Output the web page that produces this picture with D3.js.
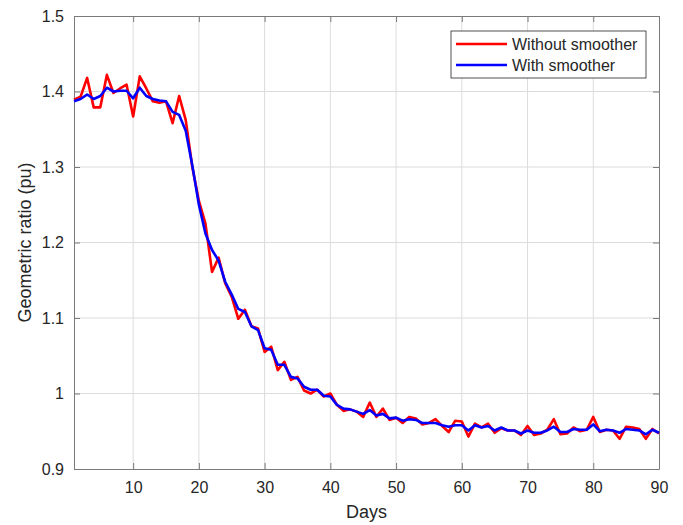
<!DOCTYPE html>
<html>
<head>
<meta charset="utf-8">
<script src="https://cdnjs.cloudflare.com/ajax/libs/d3/7.8.5/d3.min.js"></script>
<style>
  body { margin: 0; background: #fff; }
  text { font-family: "Liberation Sans", Arial, sans-serif; fill: #262626; }
  .grid line { stroke: #dcdcdc; stroke-width: 1; }
  .axis path, .axis line { stroke: #7a7a7a; }
  .axis text { font-size: 16px; fill: #262626; }
</style>
</head>
<body>
<div id="chart"></div>
<script>
// days 1..90
var days = d3.range(1, 91);

var withoutSmoother = [
  1.389, 1.393, 1.418, 1.379, 1.379, 1.422, 1.398, 1.404, 1.409, 1.367,
  1.420, 1.404, 1.387, 1.385, 1.387, 1.358, 1.394, 1.362, 1.300, 1.255,
  1.225, 1.161, 1.180, 1.146, 1.128, 1.099, 1.111, 1.089, 1.086, 1.055,
  1.062, 1.031, 1.042, 1.018, 1.022, 1.004, 1.000, 1.005, 0.996, 1.000,
  0.985, 0.977, 0.979, 0.976, 0.969, 0.988, 0.969, 0.980, 0.965, 0.968,
  0.961, 0.969, 0.967, 0.959, 0.961, 0.966, 0.957, 0.949, 0.964, 0.963,
  0.943, 0.960, 0.955, 0.960, 0.948, 0.954, 0.951, 0.951, 0.945, 0.957,
  0.945, 0.947, 0.952, 0.966, 0.946, 0.947, 0.955, 0.950, 0.952, 0.969,
  0.949, 0.952, 0.951, 0.940, 0.956, 0.955, 0.953, 0.940, 0.953, 0.947
];

var withSmoother = [
  1.387, 1.390, 1.396, 1.390, 1.394, 1.405, 1.400, 1.401, 1.401, 1.391,
  1.405, 1.394, 1.390, 1.388, 1.387, 1.373, 1.369, 1.348, 1.302, 1.250,
  1.212, 1.190, 1.176, 1.148, 1.131, 1.112, 1.108, 1.089, 1.084, 1.060,
  1.058, 1.038, 1.038, 1.022, 1.020, 1.009, 1.005, 1.005, 0.997, 0.996,
  0.985, 0.980, 0.979, 0.976, 0.973, 0.978, 0.971, 0.973, 0.967, 0.968,
  0.964, 0.966, 0.965, 0.961, 0.961, 0.961, 0.958, 0.956, 0.958, 0.958,
  0.951, 0.958, 0.955, 0.957, 0.951, 0.955, 0.951, 0.951, 0.947, 0.951,
  0.948, 0.948, 0.951, 0.956, 0.949, 0.949, 0.953, 0.952, 0.952, 0.959,
  0.950, 0.952, 0.951, 0.948, 0.953, 0.952, 0.951, 0.946, 0.952, 0.948
];

var xTicks = [10, 20, 30, 40, 50, 60, 70, 80, 90];
var yTicks = [0.9, 1.0, 1.1, 1.2, 1.3, 1.4, 1.5];

var seriesNames = ["Without smoother", "With smoother"];
var seriesColours = ["#ff0000", "#0000ff"];

var margin = {top: 16, right: 24, bottom: 56, left: 74};
var width = 683 - margin.left - margin.right;
var height = 525 - margin.top - margin.bottom;

var svg = d3.select("#chart")
            .append("svg")
              .attr("width", 683)
              .attr("height", 525);

var chart = svg.append("g")
               .attr("transform", "translate(" + margin.left + "," + margin.top + ")");

// scales
var xScale = d3.scaleLinear().domain([1, 90]).range([0, width]);
var yScale = d3.scaleLinear().domain([0.9, 1.5]).range([height, 0]);

// grid
chart.append("g")
      .attr("class", "grid")
      .selectAll("line.gx")
      .data(xTicks.slice(0, -1))
      .enter()
     .append("line")
      .attr("x1", function(d) { return xScale(d); })
      .attr("x2", function(d) { return xScale(d); })
      .attr("y1", 0)
      .attr("y2", height);

chart.select(".grid")
      .selectAll("line.gy")
      .data(yTicks.slice(1, -1))
      .enter()
     .append("line")
      .attr("x1", 0)
      .attr("x2", width)
      .attr("y1", function(d) { return yScale(d); })
      .attr("y2", function(d) { return yScale(d); });

// axes (ticks point inward, like matlab)
var fmt = function(d) { return d3.format("~g")(d); };

chart.append("g")
      .attr("class", "axis x-axis")
      .attr("transform", "translate(0," + height + ")")
      .call(d3.axisBottom(xScale).tickValues(xTicks).tickFormat(fmt).tickSizeInner(-6).tickSizeOuter(0).tickPadding(13));

chart.append("g")
      .attr("class", "axis")
      .call(d3.axisTop(xScale).tickValues(xTicks).tickFormat("").tickSizeInner(-6).tickSizeOuter(0));

chart.append("g")
      .attr("class", "axis y-axis")
      .call(d3.axisLeft(yScale).tickValues(yTicks).tickFormat(fmt).tickSizeInner(-6).tickSizeOuter(0).tickPadding(10));

chart.append("g")
      .attr("class", "axis")
      .attr("transform", "translate(" + width + ",0)")
      .call(d3.axisRight(yScale).tickValues(yTicks).tickFormat("").tickSizeInner(-6).tickSizeOuter(0));

// axis labels
chart.append("text")
      .attr("x", width / 2)
      .attr("y", height + 49)
      .attr("text-anchor", "middle")
      .style("font-size", "18px")
      .text("Days");

chart.append("text")
      .attr("transform", "translate(-43," + (height / 2) + ") rotate(-90)")
      .attr("text-anchor", "middle")
      .style("font-size", "18px")
      .text("Geometric ratio (pu)");

// lines
var line = d3.line()
             .x(function(d) { return xScale(d[0]); })
             .y(function(d) { return yScale(d[1]); });

[withoutSmoother, withSmoother].forEach(function(values, i) {
  chart.append("path")
        .datum(days.map(function(d, j) { return [d, values[j]]; }))
        .attr("fill", "none")
        .attr("stroke", seriesColours[i])
        .attr("stroke-width", 2.6)
        .attr("stroke-linejoin", "round")
        .attr("d", line);
});

// legend
var legend = chart.append("g")
                   .attr("transform", "translate(" + (width - 208) + ",15)");

legend.append("rect")
       .attr("width", 195)
       .attr("height", 47)
       .attr("fill", "#fff")
       .attr("stroke", "#262626")
       .attr("stroke-width", 0.8);

var legendItems = legend.selectAll(".legend-item")
                         .data(seriesNames)
                         .enter()
                        .append("g")
                         .attr("class", "legend-item")
                         .attr("transform", function(d, i) { return "translate(0," + (13 + i * 21) + ")"; });

legendItems.append("line")
            .attr("x1", 5)
            .attr("x2", 56)
            .attr("stroke", function(d, i) { return seriesColours[i]; })
            .attr("stroke-width", 2.6);

legendItems.append("text")
            .attr("x", 61)
            .attr("dy", "0.35em")
            .style("font-size", "16px")
            .text(function(d) { return d; });
</script>
</body>
</html>
